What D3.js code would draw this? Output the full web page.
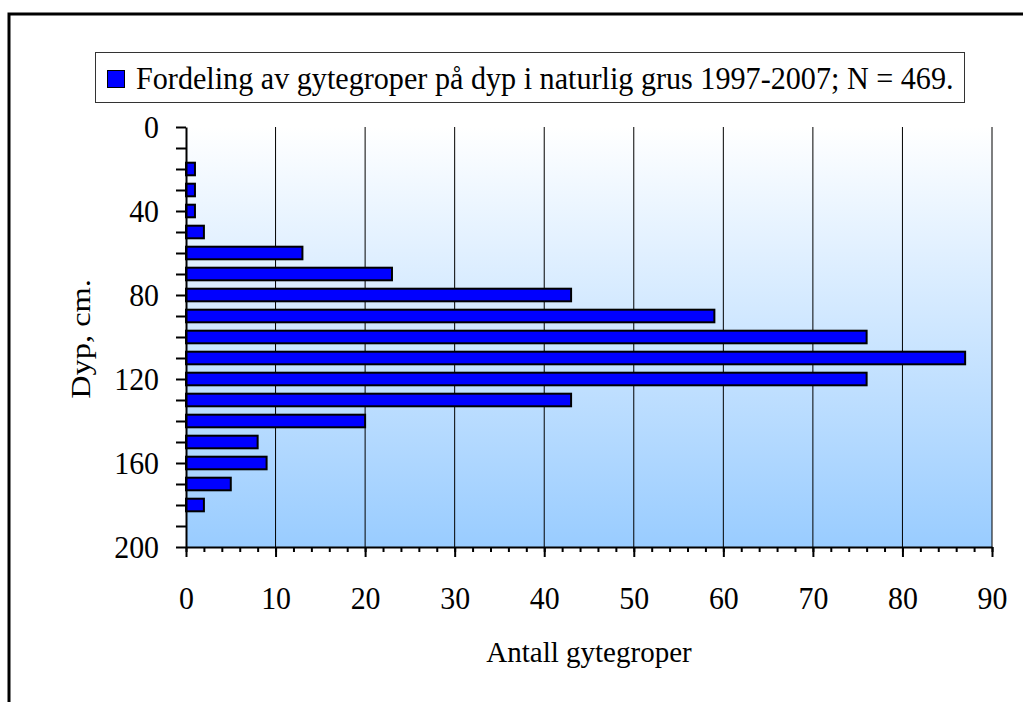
<!DOCTYPE html>
<html>
<head>
<meta charset="utf-8">
<script src="https://cdn.jsdelivr.net/npm/d3@7"></script>
<style>
  html, body { margin: 0; padding: 0; background: #fff; }
  svg { display: block; }
</style>
</head>
<body>
<svg id="chart" width="1023" height="702"></svg>
<script>
// ---- data ----
const depths = [20, 30, 40, 50, 60, 70, 80, 90, 100, 110, 120, 130, 140, 150, 160, 170, 180];
const counts = [1, 1, 1, 2, 13, 23, 43, 59, 76, 87, 76, 43, 20, 8, 9, 5, 2];
const xTicks = [0, 10, 20, 30, 40, 50, 60, 70, 80, 90];
const yLabelTicks = [0, 40, 80, 120, 160, 200];
const legendLabel = "Fordeling av gytegroper på dyp i naturlig grus 1997-2007; N = 469.";
const xTitle = "Antall gytegroper";
const yTitle = "Dyp, cm.";

const FONT = "'Liberation Serif', 'Times New Roman', serif";
const svg = d3.select("#chart").attr("font-family", FONT);

// outer frame (extends beyond visible area right/bottom)
svg.append("rect").attr("x", 9).attr("y", 14).attr("width", 1100).attr("height", 800)
  .attr("fill", "none").attr("stroke", "#000").attr("stroke-width", 3);

const plot = { left: 186, right: 992, top: 127, bottom: 547 };
const x = d3.scaleLinear().domain([0, 90]).range([plot.left, plot.right]);
const y = d3.scaleLinear().domain([0, 200]).range([plot.top, plot.bottom]);

// gradient background
const defs = svg.append("defs");
const grad = defs.append("linearGradient").attr("id", "bg").attr("x1", 0).attr("y1", 0).attr("x2", 0).attr("y2", 1);
grad.append("stop").attr("offset", "0%").attr("stop-color", "#ffffff");
grad.append("stop").attr("offset", "100%").attr("stop-color", "#99ccff");
svg.append("rect").attr("x", plot.left).attr("y", plot.top)
  .attr("width", plot.right - plot.left).attr("height", plot.bottom - plot.top)
  .attr("fill", "url(#bg)");

// gridlines
svg.append("g").selectAll("line").data(xTicks.filter(d => d > 0)).join("line")
  .attr("x1", d => x(d)).attr("x2", d => x(d))
  .attr("y1", plot.top).attr("y2", plot.bottom)
  .attr("stroke", "#000").attr("stroke-width", 1);

// bars
const bh = y(6) - y(0);
svg.append("g").selectAll("rect").data(depths.map((d, i) => ({ d, v: counts[i] }))).join("rect")
  .attr("x", x(0)).attr("y", e => y(e.d) - bh / 2)
  .attr("width", e => x(e.v) - x(0)).attr("height", bh)
  .attr("fill", "#0000ff").attr("stroke", "#000").attr("stroke-width", 2);

// serif tick text, stretched slightly around its anchor
function styleText(g, sx, sy) {
  g.attr("font-family", FONT).attr("font-size", null);
  g.selectAll("text").each(function () {
    const t = d3.select(this);
    const tx = +t.attr("x") || 0, ty = +t.attr("y") || 0;
    t.attr("x", 0).attr("y", 0)
      .attr("transform", `translate(${tx},${ty}) scale(${sx},${sy})`)
      .style("font-family", FONT).style("font-size", "29px").attr("fill", "#000");
  });
}

// x axis minor ticks
const minorX = d3.range(0, 91, 2);
svg.append("g").attr("transform", `translate(0,${plot.bottom})`)
  .call(d3.axisBottom(x).tickValues(minorX).tickSize(5).tickSizeOuter(0).tickFormat(""))
  .call(g => g.select(".domain").remove())
  .call(g => g.selectAll("line").attr("stroke-width", 2));
// x axis major
svg.append("g").attr("transform", `translate(0,${plot.bottom})`)
  .call(d3.axisBottom(x).tickValues(xTicks).tickSize(10).tickSizeOuter(0).tickPadding(29))
  .call(g => g.select(".domain").attr("stroke-width", 2))
  .call(g => g.selectAll("line").attr("stroke-width", 2))
  .call(g => styleText(g, 1.03, 1.1));

// y axis
svg.append("g").attr("transform", `translate(${plot.left},0)`)
  .call(d3.axisLeft(y).tickValues(d3.range(0, 201, 10)).tickSize(10).tickSizeOuter(0).tickPadding(17)
    .tickFormat(d => yLabelTicks.includes(d) ? d : ""))
  .call(g => g.select(".domain").attr("stroke-width", 2))
  .call(g => g.selectAll("line").attr("stroke-width", 2))
  .call(g => styleText(g, 1.03, 1.1));

// axis titles
svg.append("text").attr("x", (plot.left + plot.right) / 2).attr("y", 662)
  .attr("text-anchor", "middle").style("font-family", FONT).style("font-size", "29px").text(xTitle);
svg.append("text").attr("transform", "translate(90,339) rotate(-90) scale(1.2,1)")
  .attr("text-anchor", "middle").style("font-family", FONT).style("font-size", "27px").text(yTitle);

// legend
svg.append("rect").attr("x", 95.5).attr("y", 52.5).attr("width", 869).attr("height", 50)
  .attr("fill", "#fff").attr("stroke", "#333").attr("stroke-width", 1);
svg.append("rect").attr("x", 107.5).attr("y", 70.5).attr("width", 17).attr("height", 17)
  .attr("fill", "#0000ff").attr("stroke", "#000").attr("stroke-width", 1);
svg.append("text").attr("transform", "translate(136,89) scale(1.04,1.1)")
  .style("font-family", FONT).style("font-size", "29px")
  .text(legendLabel);
</script>
</body>
</html>
